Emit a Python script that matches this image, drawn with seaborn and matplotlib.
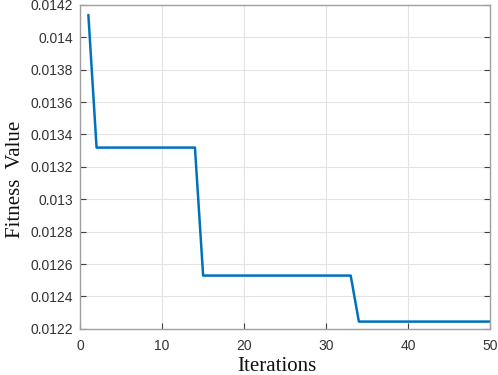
import numpy as np
import pandas as pd
import seaborn as sns
import matplotlib
matplotlib.use("Agg")
import matplotlib.pyplot as plt

# values
iterations = list(range(1, 51))
fitness = [0.014138] + [0.013319] * 13 + [0.012529] * 19 + [0.012245] * 17

xticks = [0, 10, 20, 30, 40, 50]
yticks = [0.0122, 0.0124, 0.0126, 0.0128, 0.013, 0.0132,
          0.0134, 0.0136, 0.0138, 0.014, 0.0142]
ytick_labels = ["0.0122", "0.0124", "0.0126", "0.0128", "0.013", "0.0132",
                "0.0134", "0.0136", "0.0138", "0.014", "0.0142"]

df = pd.DataFrame({"Iterations": iterations, "Fitness": fitness})

sns.set_theme(style="ticks")
plt.rcParams['font.family'] = ['Liberation Sans', 'DejaVu Sans']

fig = plt.figure(figsize=(4.98, 3.75), dpi=100)
ax = fig.add_axes([0.161, 0.123, 0.823, 0.864])

sns.lineplot(data=df, x="Iterations", y="Fitness", color="#0072BD",
             linewidth=1.8, ax=ax)

ax.set_xlim(0, 50)
ax.set_ylim(0.0122, 0.0142)
ax.set_xticks(xticks)
ax.set_yticks(yticks)
ax.set_yticklabels(ytick_labels)
ax.grid(True, color="#e3e3e3", linewidth=0.8)
ax.set_axisbelow(True)

for s in ax.spines.values():
    s.set_visible(True)
    s.set_color("#a0a0a0")
    s.set_linewidth(1.0)

ax.tick_params(direction="in", length=4, width=0.8, color="#404040",
               labelsize=10, labelcolor="#333333", top=False, right=True)
ax.tick_params(axis="x", pad=7)
ax.tick_params(axis="y", pad=5)

ax.set_xlabel("Iterations", fontsize=15, family="Liberation Serif",
              color="#111111", labelpad=3)
ax.set_ylabel("Fitness  Value", fontsize=15, family="Liberation Serif",
              color="#111111", labelpad=4)
ax.xaxis.label.set_x(0.48)
ax.yaxis.label.set_y(0.46)

fig.savefig("out.png", dpi=100)
